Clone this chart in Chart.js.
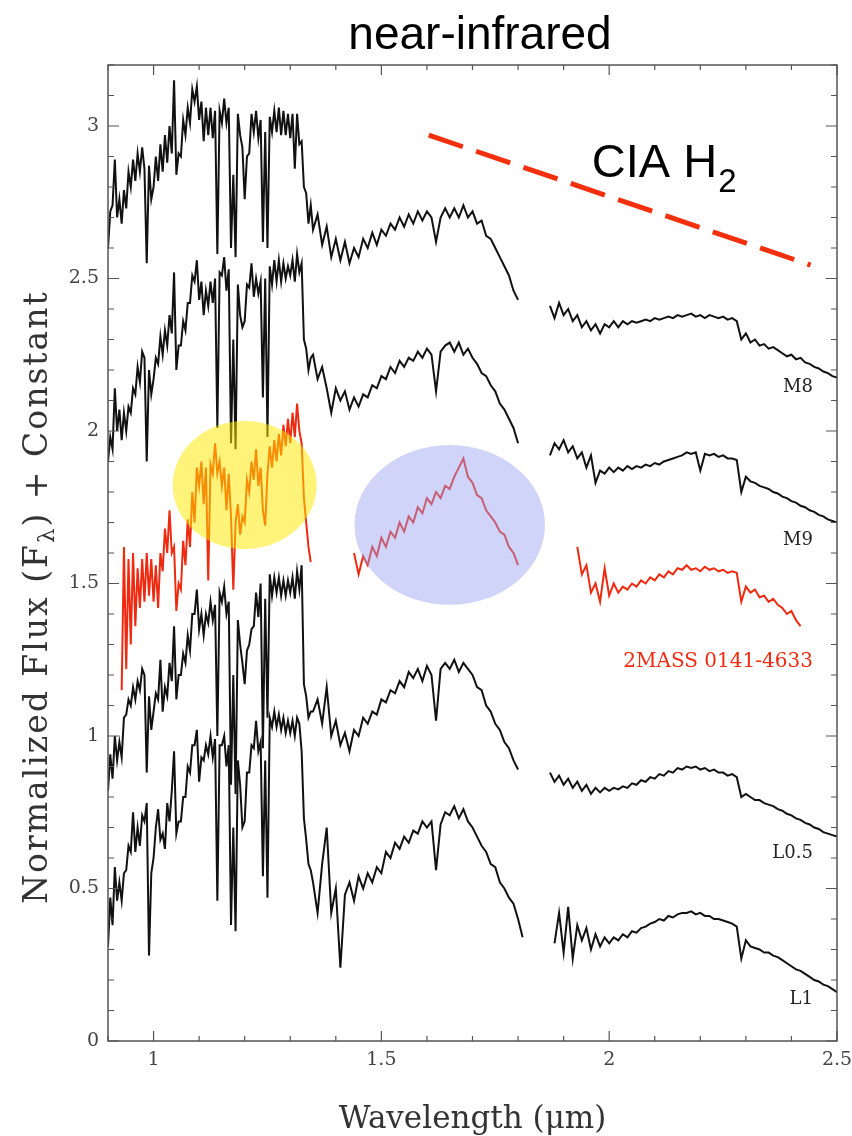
<!DOCTYPE html>
<html>
<head>
<meta charset="utf-8">
<title>near-infrared spectra</title>
<script src="https://cdn.jsdelivr.net/npm/chart.js@4.4.1/dist/chart.umd.min.js"></script>
<style>
  html, body { margin: 0; padding: 0; background: #fff; }
  #wrap { width: 852px; height: 1136px; }
</style>
</head>
<body>
<div id="wrap"><canvas id="specChart" width="852" height="1136"></canvas></div>
<script>
/* =========================
   DATA
========================= */

function range(a, b, step) {
  const out = [];
  const n = Math.round((b - a) / step);
  for (let i = 0; i <= n; i++) out.push(+(a + i * step).toFixed(3));
  return out;
}

// wavelength sampling (micron): J band fine, H and K coarser
const wlJ = range(0.900, 1.345, 0.005);
const wlH = range(1.350, 1.820, 0.01);
const wlK = range(1.870, 2.500, 0.01);

const xTicks = [1, 1.5, 2, 2.5];
const yTicks = [0, 0.5, 1, 1.5, 2, 2.5, 3];

const m8J = [
  2.60, 2.72, 2.74, 2.89, 2.70, 2.76, 2.68, 2.79, 2.73, 2.85,
  2.80, 2.89, 2.82, 2.91, 2.85, 2.93, 2.86, 2.55, 2.87, 2.76,
  2.80, 2.90, 2.82, 2.94, 2.85, 2.97, 2.88, 3.00, 2.91, 3.15,
  2.84, 2.91, 2.90, 3.02, 2.97, 3.06, 3.01, 3.12, 3.08, 3.13,
  3.02, 3.08, 2.95, 3.06, 2.97, 3.06, 2.96, 3.05, 2.58, 3.05,
  3.01, 3.09, 3.01, 3.06, 2.60, 2.84, 2.57, 3.04, 2.97, 2.93,
  2.76, 2.90, 2.91, 3.04, 2.98, 3.05, 2.96, 3.02, 2.62, 2.98,
  2.60, 3.03, 2.98, 3.05, 2.98, 3.06, 2.97, 3.05, 2.97, 3.04,
  2.96, 3.04, 2.86, 3.04, 2.94, 2.95, 2.80, 2.78, 2.68, 2.74
];
const m8H = [
  2.66, 2.71, 2.61, 2.67, 2.57, 2.63, 2.56, 2.62, 2.55, 2.60,
  2.57, 2.63, 2.60, 2.65, 2.61, 2.66, 2.64, 2.68, 2.66, 2.70,
  2.67, 2.71, 2.68, 2.72, 2.69, 2.72, 2.70, 2.62, 2.70, 2.73,
  2.70, 2.73, 2.70, 2.74, 2.70, 2.72, 2.68, 2.69, 2.64, 2.63,
  2.60, 2.57, 2.54, 2.51, 2.46, 2.43, null, null
];
const m8K = [
  2.41, 2.37, 2.42, 2.38, 2.40, 2.36, 2.38, 2.34, 2.36, 2.33,
  2.35, 2.32, 2.35, 2.34, 2.36, 2.34, 2.36, 2.35, 2.36, 2.355,
  2.36, 2.365, 2.36, 2.37, 2.365, 2.37, 2.375, 2.37, 2.38, 2.375,
  2.38, 2.385, 2.375, 2.38, 2.37, 2.38, 2.375, 2.37, 2.375, 2.365,
  2.37, 2.36, 2.30, 2.32, 2.29, 2.30, 2.28, 2.285, 2.27, 2.275,
  2.265, 2.255, 2.245, 2.25, 2.235, 2.24, 2.225, 2.22, 2.21, 2.205,
  2.195, 2.19, 2.18, 2.175
];

const m9J = [
  1.90, 1.98, 1.94, 2.14, 2.00, 2.07, 1.97, 2.06, 2.00, 2.08,
  2.06, 2.14, 2.12, 2.21, 2.16, 2.26, 2.24, 1.90, 2.20, 2.12,
  2.17, 2.24, 2.22, 2.31, 2.25, 2.33, 2.28, 2.38, 2.32, 2.52,
  2.20, 2.28, 2.28, 2.36, 2.33, 2.42, 2.42, 2.51, 2.49, 2.56,
  2.43, 2.49, 2.38, 2.46, 2.41, 2.49, 2.42, 2.50, 2.01, 2.52,
  2.51, 2.57, 2.46, 2.53, 1.96, 2.30, 1.94, 2.48, 2.38, 2.34,
  2.36, 2.48, 2.47, 2.55, 2.44, 2.50, 2.45, 2.49, 2.11, 2.50,
  1.98, 2.54, 2.48, 2.56, 2.49, 2.56, 2.49, 2.55, 2.50, 2.54,
  2.51, 2.56, 2.49, 2.58, 2.52, 2.55, 2.30, 2.27, 2.20, 2.24
];
const m9H = [
  2.25, 2.17, 2.21, 2.14, 2.06, 2.14, 2.10, 2.13, 2.07, 2.11,
  2.08, 2.12, 2.11, 2.15, 2.14, 2.18, 2.17, 2.21, 2.19, 2.23,
  2.21, 2.24, 2.23, 2.26, 2.24, 2.27, 2.25, 2.13, 2.26, 2.28,
  2.29, 2.26, 2.29, 2.25, 2.27, 2.24, 2.22, 2.19, 2.18, 2.15,
  2.13, 2.09, 2.07, 2.04, 2.01, 1.96, null, null
];
const m9K = [
  1.92, 1.96, 1.94, 1.97, 1.93, 1.95, 1.91, 1.93, 1.88, 1.92,
  1.83, 1.87, 1.86, 1.88, 1.865, 1.88, 1.87, 1.885, 1.875, 1.885,
  1.88, 1.89, 1.885, 1.895, 1.89, 1.90, 1.905, 1.91, 1.915, 1.92,
  1.93, 1.925, 1.93, 1.87, 1.925, 1.92, 1.925, 1.915, 1.92, 1.91,
  1.91, 1.905, 1.80, 1.85, 1.835, 1.83, 1.82, 1.815, 1.81, 1.80,
  1.795, 1.785, 1.78, 1.77, 1.765, 1.755, 1.75, 1.74, 1.735, 1.725,
  1.72, 1.71, 1.705, 1.70
];

const tmJ = [
  null, null, null, null, null, null, 1.15, 1.62, 1.22, 1.58,
  1.30, 1.60, 1.36, 1.55, 1.42, 1.58, 1.44, 1.60, 1.46, 1.58,
  1.44, 1.56, 1.42, 1.60, 1.54, 1.68, 1.60, 1.74, 1.60, 1.62,
  1.41, 1.50, 1.48, 1.64, 1.56, 1.71, 1.62, 1.80, 1.70, 1.88,
  1.82, 1.90, 1.76, 1.88, 1.51, 1.89, 1.86, 1.96, 1.86, 1.90,
  1.82, 1.88, 1.74, 1.86, 1.72, 1.48, 1.70, 1.76, 1.66, 1.72,
  1.70, 1.84, 1.80, 1.90, 1.84, 1.94, 1.82, 1.88, 1.74, 1.69,
  1.86, 1.95, 1.88, 1.97, 1.90, 1.99, 1.92, 2.02, 1.95, 2.04,
  1.96, 2.06, 1.98, 2.09, 2.00, 1.96, 1.78, 1.70, 1.62, 1.57
];
const tmH = [
  null, null, null, null, null, null, null, null, null, 1.60,
  1.53, 1.59, 1.56, 1.62, 1.59, 1.65, 1.62, 1.67, 1.65, 1.70,
  1.67, 1.72, 1.70, 1.75, 1.73, 1.78, 1.76, 1.80, 1.78, 1.82,
  1.81, 1.85, 1.88, 1.91, 1.85, 1.83, 1.79, 1.78, 1.74, 1.72,
  1.70, 1.67, 1.66, 1.62, 1.60, 1.56, null, null
];
const tmK = [
  null, null, null, null, null, null, 1.62, 1.53, 1.56, 1.47,
  1.50, 1.44, 1.55, 1.46, 1.50, 1.47, 1.49, 1.48, 1.50, 1.49,
  1.51, 1.50, 1.52, 1.51, 1.53, 1.52, 1.54, 1.53, 1.55, 1.545,
  1.56, 1.545, 1.55, 1.54, 1.555, 1.545, 1.55, 1.54, 1.545, 1.535,
  1.54, 1.535, 1.44, 1.49, 1.47, 1.48, 1.455, 1.46, 1.44, 1.45,
  1.43, 1.42, 1.40, 1.41, 1.38, 1.36, null, null, null, null,
  null, null, null, null
];

const l05J = [
  0.82, 0.94, 0.86, 1.00, 0.92, 0.98, 0.93, 1.06, 1.07, 1.12,
  1.10, 1.16, 1.12, 1.18, 1.15, 1.22, 1.20, 0.88, 1.13, 1.02,
  1.08, 1.14, 1.12, 1.25, 1.08, 1.16, 1.13, 1.24, 1.18, 1.36,
  1.12, 1.20, 1.20, 1.27, 1.24, 1.33, 1.28, 1.40, 1.40, 1.48,
  1.35, 1.40, 1.33, 1.40, 1.37, 1.44, 1.38, 1.43, 1.00, 1.47,
  1.44, 1.49, 1.40, 1.44, 0.84, 1.20, 0.81, 1.38, 1.30, 1.24,
  1.17, 1.28, 1.30, 1.35, 1.36, 1.47, 1.39, 1.50, 0.96, 1.45,
  1.06, 1.53, 1.46, 1.52, 1.47, 1.52, 1.46, 1.51, 1.46, 1.51,
  1.47, 1.52, 1.45, 1.54, 1.48, 1.56, 1.17, 1.13, 1.06, 1.08
];
const l05H = [
  1.08, 1.12, 1.04, 1.16, 1.00, 1.05, 0.97, 1.01, 0.95, 1.02,
  1.00, 1.06, 1.04, 1.08, 1.07, 1.12, 1.11, 1.15, 1.14, 1.18,
  1.16, 1.21, 1.19, 1.22, 1.18, 1.23, 1.20, 1.05, 1.22, 1.24,
  1.22, 1.25, 1.21, 1.24, 1.22, 1.20, 1.16, 1.15, 1.10, 1.08,
  1.04, 1.02, 0.98, 0.96, 0.92, 0.89, null, null
];
const l05K = [
  0.88, 0.85, 0.87, 0.84, 0.86, 0.83, 0.85, 0.82, 0.84, 0.81,
  0.83, 0.815, 0.83, 0.82, 0.83, 0.825, 0.835, 0.83, 0.845, 0.84,
  0.855, 0.85, 0.865, 0.86, 0.875, 0.87, 0.885, 0.88, 0.895, 0.89,
  0.90, 0.895, 0.90, 0.89, 0.895, 0.885, 0.89, 0.88, 0.88, 0.87,
  0.875, 0.865, 0.80, 0.81, 0.80, 0.79, 0.79, 0.78, 0.775, 0.77,
  0.76, 0.755, 0.745, 0.74, 0.73, 0.725, 0.715, 0.71, 0.70, 0.695,
  0.685, 0.68, 0.675, 0.67
];

const l1J = [
  0.31, 0.47, 0.38, 0.57, 0.46, 0.52, 0.46, 0.55, 0.56, 0.64,
  0.62, 0.75, 0.62, 0.70, 0.64, 0.74, 0.72, 0.78, 0.28, 0.55,
  0.60, 0.70, 0.76, 0.66, 0.68, 0.63, 0.78, 0.72, 0.82, 0.95,
  0.68, 0.72, 0.72, 0.80, 0.80, 0.90, 0.88, 0.97, 0.97, 1.02,
  0.85, 0.93, 0.92, 0.97, 0.94, 1.00, 0.93, 0.99, 0.46, 0.97,
  0.97, 1.00, 0.90, 0.97, 0.38, 0.70, 0.36, 0.92, 0.84, 0.70,
  0.72, 0.88, 0.88, 0.97, 0.96, 1.05, 0.95, 0.98, 0.54, 0.92,
  0.47, 1.06, 1.03, 1.08, 1.03, 1.07, 1.02, 1.06, 1.01, 1.05,
  1.01, 1.05, 1.00, 1.06, 1.04, 0.95, 0.73, 0.66, 0.58, 0.56
];
const l1H = [
  0.52, 0.42, 0.58, 0.70, 0.42, 0.50, 0.24, 0.48, 0.52, 0.46,
  0.54, 0.50, 0.55, 0.52, 0.57, 0.55, 0.62, 0.60, 0.65, 0.63,
  0.67, 0.65, 0.69, 0.68, 0.72, 0.70, 0.72, 0.56, 0.71, 0.75,
  0.74, 0.77, 0.73, 0.76, 0.72, 0.70, 0.67, 0.64, 0.62, 0.58,
  0.57, 0.52, 0.50, 0.47, 0.45, 0.40, 0.34, null
];
const l1K = [
  null, 0.32, 0.42, 0.29, 0.44, 0.27, 0.38, 0.33, 0.37, 0.30,
  0.35, 0.31, 0.34, 0.32, 0.34, 0.33, 0.35, 0.34, 0.36, 0.355,
  0.37, 0.375, 0.385, 0.39, 0.40, 0.395, 0.41, 0.405, 0.415, 0.42,
  0.42, 0.425, 0.415, 0.42, 0.41, 0.41, 0.40, 0.40, 0.395, 0.39,
  0.385, 0.375, 0.27, 0.33, 0.31, 0.305, 0.30, 0.29, 0.29, 0.28,
  0.275, 0.265, 0.255, 0.245, 0.235, 0.23, 0.22, 0.21, 0.20, 0.195,
  0.185, 0.18, 0.17, 0.16
];

// collision-induced H2 slope marker
const ciaX = [1.604, 2.442];
const ciaY = [2.97, 2.544];

// labels
const specNames = ["M8", "M9", "2MASS 0141-4633", "L0.5", "L1"];
const specLabelY = [2.144, 1.643, 1.243, 0.616, 0.138];

// highlighted regions (centre / half-widths in data units)
const blobX = [1.200, 1.650];
const blobY = [1.823, 1.692];
const blobRx = [0.158, 0.209];
const blobRy = [0.210, 0.262];

/* =========================
   BUILD
========================= */

const BLACK = "#111111";
const RED = "#ee2a10";

function points(j, h, k) {
  const pts = [];
  wlJ.forEach((w, i) => pts.push({ x: w, y: j[i] }));
  wlH.forEach((w, i) => pts.push({ x: w, y: h[i] }));
  wlK.forEach((w, i) => pts.push({ x: w, y: k[i] }));
  return pts;
}

const spectra = [
  { label: specNames[2], data: points(tmJ, tmH, tmK), color: RED },
  { label: specNames[0], data: points(m8J, m8H, m8K), color: BLACK },
  { label: specNames[1], data: points(m9J, m9H, m9K), color: BLACK },
  { label: specNames[3], data: points(l05J, l05H, l05K), color: BLACK },
  { label: specNames[4], data: points(l1J, l1H, l1K), color: BLACK }
];

const datasets = spectra.map(s => ({
  label: s.label,
  data: s.data,
  showLine: true,
  borderColor: s.color,
  borderWidth: 2,
  pointRadius: 0,
  spanGaps: false,
  tension: 0
}));

datasets.push({
  label: "CIA H2",
  data: ciaX.map((x, i) => ({ x, y: ciaY[i] })),
  showLine: true,
  borderColor: "#f2300e",
  borderWidth: 5,
  borderDash: [36, 14],
  pointRadius: 0
});

/* =========================
   DECOR PLUGIN
========================= */

const serif = '"DejaVu Serif", "Liberation Serif", serif';
const sans = '"Liberation Sans", Arial, sans-serif';

const decor = {
  id: "decor",

  afterDatasetsDraw(chart) {
    const { ctx, scales: { x, y } } = chart;
    const fills = ["rgba(255,232,0,0.52)", "rgba(150,160,240,0.45)"];
    blobX.forEach((cx, i) => {
      const px = x.getPixelForValue(cx);
      const py = y.getPixelForValue(blobY[i]);
      const rx = Math.abs(x.getPixelForValue(cx + blobRx[i]) - px);
      const ry = Math.abs(y.getPixelForValue(blobY[i] + blobRy[i]) - py);
      ctx.save();
      ctx.fillStyle = fills[i];
      ctx.beginPath();
      ctx.ellipse(px, py, rx, ry, 0, 0, Math.PI * 2);
      ctx.fill();
      ctx.restore();
    });
  },

  afterDraw(chart) {
    const { ctx, chartArea: a, scales: { x, y } } = chart;
    ctx.save();

    // frame
    ctx.strokeStyle = "#555";
    ctx.lineWidth = 1.5;
    ctx.strokeRect(a.left, a.top, a.right - a.left, a.bottom - a.top);

    // inward ticks, all four sides
    ctx.lineWidth = 1.2;
    ctx.beginPath();
    for (let v = 9; v <= 25; v++) {
      const px = x.getPixelForValue(v / 10);
      const len = v % 5 === 0 ? 10 : 5;
      ctx.moveTo(px, a.bottom); ctx.lineTo(px, a.bottom - len);
      ctx.moveTo(px, a.top); ctx.lineTo(px, a.top + len);
    }
    for (let v = 0; v <= 32; v++) {
      const py = y.getPixelForValue(v / 10);
      const len = v % 5 === 0 ? 11 : 6;
      ctx.moveTo(a.left, py); ctx.lineTo(a.left + len, py);
      ctx.moveTo(a.right, py); ctx.lineTo(a.right - len, py);
    }
    ctx.stroke();

    // title
    ctx.fillStyle = "#000";
    ctx.textAlign = "center";
    ctx.textBaseline = "alphabetic";
    ctx.font = "46px " + sans;
    ctx.fillText("near-infrared", 480, 49);

    // CIA H2 label
    ctx.textAlign = "left";
    const cx = x.getPixelForValue(1.962);
    const cy = y.getPixelForValue(2.833);
    ctx.font = "47px " + sans;
    ctx.fillText("CIA H", cx, cy);
    const w = ctx.measureText("CIA H").width;
    ctx.font = "33px " + sans;
    ctx.fillText("2", cx + w + 1, cy + 15);

    // spectrum labels
    ctx.textAlign = "right";
    ctx.textBaseline = "middle";
    specNames.forEach((name, i) => {
      const isRed = i === 2;
      ctx.font = (isRed ? "20px " : "18px ") + serif;
      ctx.fillStyle = isRed ? RED : "#222";
      ctx.fillText(name, x.getPixelForValue(2.447), y.getPixelForValue(specLabelY[i]));
    });

    // axis titles
    ctx.fillStyle = "#333";
    ctx.textAlign = "center";
    ctx.textBaseline = "alphabetic";
    ctx.font = "31px " + serif;
    ctx.fillText("Wavelength (\u03bcm)", (a.left + a.right) / 2, 1128);

    ctx.translate(47, 597);
    ctx.rotate(-Math.PI / 2);
    ctx.letterSpacing = "2px";
    const big = "33px " + serif, small = "23px " + serif;
    const p1 = "Normalized Flux (F", p2 = "\u03bb", p3 = ") + Constant";
    ctx.font = big;
    const w1 = ctx.measureText(p1).width, w3 = ctx.measureText(p3).width;
    ctx.font = small;
    const w2 = ctx.measureText(p2).width;
    const sx = -(w1 + w2 + w3) / 2;
    ctx.textAlign = "left";
    ctx.font = big;
    ctx.fillText(p1, sx, 0);
    ctx.font = small;
    ctx.fillText(p2, sx + w1, 7);
    ctx.font = big;
    ctx.fillText(p3, sx + w1 + w2, 0);
    ctx.letterSpacing = "0px";

    ctx.restore();
  }
};

/* =========================
   CHART
========================= */

const tickFont = { family: serif, size: 19 };

new Chart(document.getElementById("specChart"), {
  type: "scatter",
  data: { datasets },
  options: {
    responsive: false,
    devicePixelRatio: 1,
    animation: false,
    layout: { padding: { top: 65, right: 15, left: 0, bottom: 0 } },
    plugins: {
      legend: { display: false },
      tooltip: { enabled: false }
    },
    scales: {
      x: {
        type: "linear",
        min: 0.9,
        max: 2.5,
        grid: { display: false, drawTicks: false },
        border: { display: false },
        afterBuildTicks: s => { s.ticks = xTicks.map(v => ({ value: v })); },
        afterFit: s => { s.height = 95; s.paddingLeft = 0; s.paddingRight = 0; },
        ticks: { color: "#444", font: tickFont, padding: 8, maxRotation: 0, callback: v => String(v) }
      },
      y: {
        min: 0,
        max: 3.2,
        grid: { display: false, drawTicks: false },
        border: { display: false },
        afterBuildTicks: s => { s.ticks = yTicks.map(v => ({ value: v })); },
        afterFit: s => { s.width = 108; s.paddingTop = 0; s.paddingBottom = 0; },
        ticks: { color: "#444", font: tickFont, padding: 9, callback: v => String(v) }
      }
    }
  },
  plugins: [decor]
});
</script>
</body>
</html>
